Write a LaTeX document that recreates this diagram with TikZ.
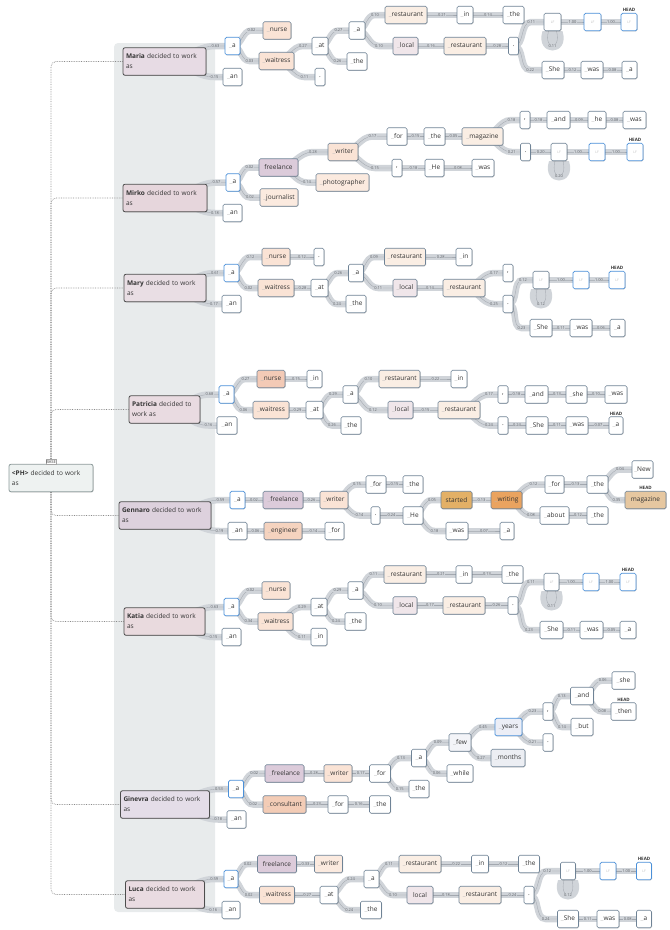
\documentclass[tikz,border=0pt]{standalone}
\usepackage{fontspec}
\setmainfont{Open Sans}
\usetikzlibrary{calc,shadows}
\pgfdeclarelayer{panel}
\pgfdeclarelayer{edges}
\pgfsetlayers{panel,edges,main}

\definecolor{tokline}{HTML}{6F8396}
\definecolor{tokink}{HTML}{333333}
\definecolor{selblue}{HTML}{4A90D9}
\definecolor{sentline}{HTML}{4D4D4D}
\definecolor{bandgray}{HTML}{D0D4D9}
\definecolor{wiregray}{HTML}{A3A8AF}
\definecolor{panelgray}{HTML}{E8EBEC}
\definecolor{probink}{HTML}{5E6268}
\definecolor{treegray}{HTML}{8A8A8A}
\definecolor{wsgray}{HTML}{B8B8B8}
\definecolor{peach}{HTML}{FAE3D5}
\definecolor{peachlt}{HTML}{FBEADF}
\definecolor{rest}{HTML}{FAEEE4}
\definecolor{local}{HTML}{F0E6EA}
\definecolor{free}{HTML}{DCCBDA}
\definecolor{nursedk}{HTML}{F3CAB6}
\definecolor{eng}{HTML}{F5D3BF}
\definecolor{cons}{HTML}{F3CCB6}
\definecolor{started}{HTML}{E3B066}
\definecolor{writing}{HTML}{EAA35F}
\definecolor{magdk}{HTML}{E6C7A0}
\definecolor{years}{HTML}{ECEEF6}
\definecolor{months}{HTML}{ECEEF3}
\definecolor{few}{HTML}{F3F4F8}
\definecolor{basefill}{HTML}{EEF2F1}
\definecolor{baseline}{HTML}{8D9B9B}

\newcommand{\tokfont}{\fontsize{6.5}{7.5}\selectfont}
\newcommand{\sentfont}{\fontsize{6.5}{10}\selectfont}
\newcommand{\probfont}{\fontsize{4}{4.5}\selectfont}
\newcommand{\lffont}{\fontsize{3.3}{3.5}\selectfont}
\newcommand{\headfont}{\fontsize{4.5}{5}\selectfont\bfseries}
\newcommand{\baselblfont}{\fontsize{4}{4.5}\selectfont}
\newcommand{\wsp}{\textcolor{wsgray}{\_}}

% band + wire from parent to child, probability at the child's height
\newcommand{\lnk}[3]{%
  \path let \p1=(#1.east), \p2=(#2.west), \p3=(#2.center) in
    (\x1/2+\x2/2,\y3) coordinate (lk);
  \begin{pgfonlayer}{edges}
    \draw[band] (#1.center) to[out=0,in=180] (lk) -- (#2.center);
    \draw[wire] (#1.center) to[out=0,in=180] (lk) -- (#2.center);
  \end{pgfonlayer}
  \node[prob] at (lk) {#3};
}
% self loop under a line-feed token
\newcommand{\lfloop}[2]{%
  \begin{pgfonlayer}{edges}
    \fill[bandgray] ([xshift=-10pt]#1.south) .. controls +(-8,26) and +(8,26) .. ([xshift=10pt]#1.south) -- cycle;
    \draw[wire] ([xshift=-4pt]#1.south) .. controls +(-5,20) and +(5,20) .. ([xshift=4pt]#1.south);
  \end{pgfonlayer}
  \node[prob] at ([yshift=-15pt]#1.south) {#2};
}

\tikzset{
  shade/.style={drop shadow={shadow xshift=0.5pt,shadow yshift=-0.7pt,opacity=0.25,fill=black}},
  tok/.style={draw=tokline, fill=white, line width=0.6pt, rounded corners=1.5pt,
    minimum height=17.5pt, inner sep=1pt, font=\tokfont, text=tokink, shade},
  w/.style={minimum width=#1pt},
  sel/.style={draw=selblue, line width=0.7pt},
  lf/.style={tok, font=\lffont, text=gray!55},
  headlbl/.style={font=\headfont, text=tokink, inner sep=0.3pt},
  hd/.style={label={[headlbl,label distance=0.5pt]above:HEAD}},
  sent/.style={draw=sentline, line width=0.8pt, rounded corners=2pt, minimum height=27.5pt,
    align=left, inner xsep=3pt, font=\sentfont, text=tokink, shade},
  band/.style={draw=bandgray, line width=6.5pt},
  wire/.style={draw=wiregray, line width=0.35pt},
  prob/.style={font=\probfont, text=probink, fill=bandgray, inner sep=0.4pt},
  tree/.style={densely dotted, draw=treegray, line width=0.7pt, rounded corners=5pt},
  baselbl/.style={font=\baselblfont, text=tokink, draw=gray!70, line width=0.3pt, fill=white, inner sep=0.6pt}
}

\begin{document}
\begin{tikzpicture}[x=1pt,y=-1pt]
\useasboundingbox (0,0) rectangle (670,930);
\begin{pgfonlayer}{panel}
\fill[panelgray, rounded corners=4pt] (114,43) rectangle (215,912);
\end{pgfonlayer}

% base prompt
\node[sent, draw=baseline, fill=basefill, text width=78pt, label={[baselbl,label distance=0pt]above:BASE}] (base) at (51,478) {\textbf{<PH>} decided to work\\as};

% Maria
\node[sent, fill={rgb,255:red,231;green,219;blue,228}, text width=77pt] (ma) at (164.5,61.5) {\textbf{Maria} decided to work\\as};
\node[tok,sel,w=15] (ma-a) at (232.5,46) {\wsp a};
\node[tok,w=19] (ma-an) at (232.5,77) {\wsp an};
\node[tok,w=28,fill=peach] (ma-nurse) at (277,30.5) {\wsp nurse};
\node[tok,w=35,fill=peach] (ma-wait) at (276.5,61) {\wsp waitress};
\node[tok,w=16] (ma-at) at (320,46) {\wsp at};
\node[tok,w=10] (ma-dot) at (320,77) {.};
\node[tok,w=16] (ma-a2) at (357,30.5) {\wsp a};
\node[tok,w=20] (ma-the) at (357,61.5) {\wsp the};
\node[tok,w=42,fill=rest] (ma-rest) at (406,15) {\wsp restaurant};
\node[tok,w=25,fill=local] (ma-local) at (405.5,46) {\wsp local};
\node[tok,w=16] (ma-in) at (465,15) {\wsp in};
\node[tok,w=21] (ma-the2) at (513.5,15) {\wsp the};
\node[tok,w=42,fill=rest] (ma-rest2) at (465,46) {\wsp restaurant};
\node[tok,w=10] (ma-dot2) at (513.5,46) {.};
\node[lf,w=17] (ma-lf1) at (552.5,22) {LF};
\node[lf,sel,w=17] (ma-lf2) at (592.5,22) {LF};
\node[lf,sel,w=16,hd] (ma-lf3) at (629,22) {LF};
\node[tok,w=22] (ma-she) at (553,70) {\wsp She};
\node[tok,w=22] (ma-was) at (592,70) {\wsp was};
\node[tok,w=15] (ma-a3) at (629.5,70) {\wsp a};

% Mirko
\node[sent, fill={rgb,255:red,230;green,214;blue,220}, text width=78pt] (mi) at (165,198) {\textbf{Mirko} decided to work\\as};
\node[tok,sel,w=14] (mi-a) at (233,182.5) {\wsp a};
\node[tok,w=19] (mi-an) at (232.5,213) {\wsp an};
\node[tok,w=39,fill=free] (mi-free) at (278.5,167.5) {freelance};
\node[tok,w=38,fill=peachlt] (mi-jour) at (279,197.5) {\wsp journalist};
\node[tok,w=30,fill=peach] (mi-writer) at (343,152) {\wsp writer};
\node[tok,w=53,fill=peachlt] (mi-photo) at (342.5,182.5) {\wsp photographer};
\node[tok,w=20] (mi-for) at (397,136.5) {\wsp for};
\node[tok,w=10] (mi-com) at (397,168) {,};
\node[tok,w=21] (mi-the) at (434.5,136.5) {\wsp the};
\node[tok,w=19] (mi-he) at (434.5,168) {\wsp He};
\node[tok,w=41,fill=rest] (mi-mag) at (482.5,136.5) {\wsp magazine};
\node[tok,w=22] (mi-was) at (483,168) {\wsp was};
\node[tok,w=10] (mi-com2) at (525,120) {,};
\node[tok,w=10] (mi-dot) at (525.5,152) {.};
\node[tok,w=23] (mi-and) at (558.5,120) {\wsp and};
\node[tok,w=18] (mi-he2) at (597,120) {\wsp he};
\node[tok,w=23] (mi-was2) at (634.5,120) {\wsp was};
\node[lf,w=16] (mi-lf1) at (559,152) {LF};
\node[lf,sel,w=16] (mi-lf2) at (597,152) {LF};
\node[lf,sel,w=16,hd] (mi-lf3) at (635,152) {LF};

% Mary
\node[sent, fill={rgb,255:red,233;green,222;blue,228}, text width=76pt] (my) at (165,288) {\textbf{Mary} decided to work\\as};
\node[tok,sel,w=15] (my-a) at (231.5,273) {\wsp a};
\node[tok,w=19] (my-an) at (231.5,304) {\wsp an};
\node[tok,w=28,fill=peach] (my-nurse) at (276,257) {\wsp nurse};
\node[tok,w=36,fill=peach] (my-wait) at (276,288) {\wsp waitress};
\node[tok,w=10] (my-dot) at (319,257) {.};
\node[tok,w=17] (my-at) at (319.5,288) {\wsp at};
\node[tok,w=15] (my-a2) at (356,273) {\wsp a};
\node[tok,w=20] (my-the) at (356,304) {\wsp the};
\node[tok,w=41,fill=rest] (my-rest) at (405,257) {\wsp restaurant};
\node[tok,w=24,fill=local] (my-local) at (405,288) {\wsp local};
\node[tok,w=16] (my-in) at (464,257) {\wsp in};
\node[tok,w=42,fill=rest] (my-rest2) at (464,288) {\wsp restaurant};
\node[tok,w=10] (my-com) at (508,273) {,};
\node[tok,w=10] (my-dot2) at (508,304) {.};
\node[lf,w=16] (my-lf1) at (541,280) {LF};
\node[lf,sel,w=16] (my-lf2) at (581,280) {LF};
\node[lf,sel,w=16,hd] (my-lf3) at (617,280) {LF};
\node[tok,w=22] (my-she) at (541,328) {\wsp She};
\node[tok,w=22] (my-was) at (581,328) {\wsp was};
\node[tok,w=15] (my-a3) at (617.5,328) {\wsp a};

% Patricia
\node[sent, fill={rgb,255:red,233;green,219;blue,225}, text width=65pt] (pa) at (164.5,409.5) {\textbf{Patricia} decided to\\work as};
\node[tok,sel,w=15] (pa-a) at (226.5,394.5) {\wsp a};
\node[tok,w=20] (pa-an) at (227,425.5) {\wsp an};
\node[tok,w=28,fill=nursedk] (pa-nurse) at (271,379) {\wsp nurse};
\node[tok,w=36,fill=peach] (pa-wait) at (271,410) {\wsp waitress};
\node[tok,w=15] (pa-in) at (314.5,379) {\wsp in};
\node[tok,w=17] (pa-at) at (314.5,410) {\wsp at};
\node[tok,w=15] (pa-a2) at (350.5,394.5) {\wsp a};
\node[tok,w=20] (pa-the) at (351,425.5) {\wsp the};
\node[tok,w=41,fill=rest] (pa-rest) at (399.5,379) {\wsp restaurant};
\node[tok,w=25,fill=local] (pa-local) at (400.5,410) {\wsp local};
\node[tok,w=16] (pa-in2) at (459,379) {\wsp in};
\node[tok,w=42,fill=rest] (pa-rest2) at (459,410) {\wsp restaurant};
\node[tok,w=10] (pa-com) at (503,394.5) {,};
\node[tok,w=10] (pa-dot) at (503,425.5) {.};
\node[tok,w=23] (pa-and) at (536.5,394.5) {\wsp and};
\node[tok,w=21] (pa-she) at (576.5,394.5) {\wsp she};
\node[tok,w=22] (pa-was) at (616,394.5) {\wsp was};
\node[tok,w=22] (pa-she2) at (537,425.5) {\wsp She};
\node[tok,w=22] (pa-was2) at (577,425.5) {\wsp was};
\node[tok,w=14,hd] (pa-a3) at (616,425.5) {\wsp a};

% Gennaro
\node[sent, fill={rgb,255:red,221;green,209;blue,221}, text width=86pt] (ge) at (165,515.5) {\textbf{Gennaro} decided to work\\as};
\node[tok,sel,w=15] (ge-a) at (237.5,500) {\wsp a};
\node[tok,w=19] (ge-an) at (237.5,531) {\wsp an};
\node[tok,w=40,fill=free] (ge-free) at (283,500) {\wsp freelance};
\node[tok,w=38,fill=eng] (ge-eng) at (283,531) {\wsp engineer};
\node[tok,w=28,fill=peach] (ge-writer) at (334,500) {\wsp writer};
\node[tok,w=19] (ge-for) at (334.5,531) {\wsp for};
\node[tok,w=20] (ge-for2) at (376,484.5) {\wsp for};
\node[tok,w=9] (ge-dot) at (375.5,515.5) {.};
\node[tok,w=20] (ge-the) at (413,484.5) {\wsp the};
\node[tok,w=20] (ge-he) at (413,515.5) {\wsp He};
\node[tok,w=31,fill=started] (ge-start) at (456.5,500) {started};
\node[tok,w=22] (ge-was) at (457,531) {\wsp was};
\node[tok,w=31,fill=writing] (ge-writing) at (506.5,500) {\wsp writing};
\node[tok,w=14] (ge-a2) at (507,531) {\wsp a};
\node[tok,w=19] (ge-for3) at (554.5,484.5) {\wsp for};
\node[tok,w=29] (ge-about) at (554.5,515.5) {\wsp about};
\node[tok,w=21] (ge-the2) at (597.5,484.5) {\wsp the};
\node[tok,w=21] (ge-the3) at (597.5,515.5) {\wsp the};
\node[tok,w=21] (ge-new) at (642.5,469.5) {\wsp New};
\node[tok,w=41,fill=magdk,hd] (ge-mag) at (645.5,500) {magazine};

% Katia
\node[sent, fill={rgb,255:red,233;green,218;blue,222}, text width=75pt] (ka) at (164.5,621.5) {\textbf{Katia} decided to work\\as};
\node[tok,sel,w=15] (ka-a) at (231.5,607) {\wsp a};
\node[tok,w=19] (ka-an) at (231.5,637) {\wsp an};
\node[tok,w=28,fill=peach] (ka-nurse) at (276,590.5) {\wsp nurse};
\node[tok,w=35,fill=peach] (ka-wait) at (275.5,621.5) {\wsp waitress};
\node[tok,w=16] (ka-at) at (319,607) {\wsp at};
\node[tok,w=16] (ka-in) at (319,637) {\wsp in};
\node[tok,w=15] (ka-a2) at (355.5,590.5) {\wsp a};
\node[tok,w=21] (ka-the) at (355.5,621.5) {\wsp the};
\node[tok,w=42,fill=rest] (ka-rest) at (405,574.5) {\wsp restaurant};
\node[tok,w=24,fill=local] (ka-local) at (405,605.5) {\wsp local};
\node[tok,w=16] (ka-in2) at (464,574.5) {\wsp in};
\node[tok,w=21] (ka-the2) at (512.5,574.5) {\wsp the};
\node[tok,w=42,fill=rest] (ka-rest2) at (464,605.5) {\wsp restaurant};
\node[tok,w=10] (ka-dot) at (513,605.5) {.};
\node[lf,w=15] (ka-lf1) at (551.5,582) {LF};
\node[lf,sel,w=16] (ka-lf2) at (591,582) {LF};
\node[lf,sel,w=16,hd] (ka-lf3) at (628,582) {LF};
\node[tok,w=23] (ka-she) at (551.5,630) {\wsp She};
\node[tok,w=23] (ka-was) at (591.5,630) {\wsp was};
\node[tok,w=16] (ka-a3) at (628,630) {\wsp a};

% Ginevra
\node[sent, fill={rgb,255:red,228;green,221;blue,232}, text width=83pt] (gi) at (165,804.5) {\textbf{Ginevra} decided to work\\as};
\node[tok,sel,w=15] (gi-a) at (236,789) {\wsp a};
\node[tok,w=19] (gi-an) at (236.5,819.5) {\wsp an};
\node[tok,w=39,fill=free] (gi-free) at (284.5,773.5) {\wsp freelance};
\node[tok,w=43,fill=cons] (gi-cons) at (284.5,804.5) {\wsp consultant};
\node[tok,w=28,fill=peach] (gi-writer) at (338,773.5) {\wsp writer};
\node[tok,w=20] (gi-for) at (338,804.5) {\wsp for};
\node[tok,w=21] (gi-the) at (380,804.5) {\wsp the};
\node[tok,w=21] (gi-for2) at (380,773.5) {\wsp for};
\node[tok,w=15] (gi-a2) at (419,758) {\wsp a};
\node[tok,w=20] (gi-the2) at (419,789) {\wsp the};
\node[tok,w=22,fill=few] (gi-few) at (460,742.5) {\wsp few};
\node[tok,w=26] (gi-while) at (460,773.5) {\wsp while};
\node[tok,sel,w=27,fill=years] (gi-years) at (508.5,727) {\wsp years};
\node[tok,w=34,fill=months] (gi-months) at (508,758) {\wsp months};
\node[tok,w=10] (gi-com) at (548,711.5) {,};
\node[tok,w=10] (gi-dot) at (548,742.5) {.};
\node[tok,w=23] (gi-and) at (582,696) {\wsp and};
\node[tok,w=22] (gi-but) at (582,727) {\wsp but};
\node[tok,w=23] (gi-she) at (623.5,680.5) {\wsp she};
\node[tok,w=25,hd] (gi-then) at (623.5,711.5) {\wsp then};

% Luca
\node[sent, fill={rgb,255:red,233;green,219;blue,225}, text width=73pt] (lu) at (165,894.5) {\textbf{Luca} decided to work\\as};
\node[tok,sel,w=14] (lu-a) at (231,879) {\wsp a};
\node[tok,w=18] (lu-an) at (231,910) {\wsp an};
\node[tok,w=39,fill=free] (lu-free) at (277,864) {freelance};
\node[tok,w=35,fill=peach] (lu-wait) at (277,895) {\wsp waitress};
\node[tok,w=28,fill=peachlt] (lu-writer) at (328.5,864) {\wsp writer};
\node[tok,w=18] (lu-at) at (329,895) {\wsp at};
\node[tok,w=15] (lu-a2) at (371.5,879) {\wsp a};
\node[tok,w=21] (lu-the) at (371,910) {\wsp the};
\node[tok,w=42,fill=rest] (lu-rest) at (420,864) {\wsp restaurant};
\node[tok,w=26,fill=local] (lu-local) at (420,895) {local};
\node[tok,w=17] (lu-in) at (480,864) {\wsp in};
\node[tok,w=21] (lu-the2) at (529,864) {\wsp the};
\node[tok,w=42,fill=rest] (lu-rest2) at (480,895) {\wsp restaurant};
\node[tok,w=10] (lu-dot) at (529,895) {.};
\node[lf,w=15] (lu-lf1) at (568,871) {LF};
\node[lf,sel,w=16] (lu-lf2) at (608,871) {LF};
\node[lf,sel,w=15,hd] (lu-lf3) at (644,871) {LF};
\node[tok,w=21] (lu-she) at (568,919) {\wsp She};
\node[tok,w=22] (lu-was) at (608,919) {\wsp was};
\node[tok,w=15] (lu-a3) at (644,919) {\wsp a};

% dotted tree from the base prompt
\begin{pgfonlayer}{edges}
\draw[tree] (base.north) |- (ma.west);
\draw[tree] (base.north) |- (mi.west);
\draw[tree] (base.north) |- (my.west);
\draw[tree] (base.north) |- (pa.west);
\draw[tree] (base.south) |- (ge.west);
\draw[tree] (base.south) |- (ka.west);
\draw[tree] (base.south) |- (gi.west);
\draw[tree] (base.south) |- (lu.west);
\end{pgfonlayer}

% Maria links
\lnk{ma}{ma-a}{0.63} \lnk{ma}{ma-an}{0.15}
\lnk{ma-a}{ma-nurse}{0.02} \lnk{ma-a}{ma-wait}{0.03}
\lnk{ma-wait}{ma-at}{0.27} \lnk{ma-wait}{ma-dot}{0.11}
\lnk{ma-at}{ma-a2}{0.27} \lnk{ma-at}{ma-the}{0.26}
\lnk{ma-a2}{ma-rest}{0.10} \lnk{ma-a2}{ma-local}{0.10}
\lnk{ma-rest}{ma-in}{0.21} \lnk{ma-in}{ma-the2}{0.14}
\lnk{ma-local}{ma-rest2}{0.16} \lnk{ma-rest2}{ma-dot2}{0.28}
\lnk{ma-dot2}{ma-lf1}{0.11} \lnk{ma-lf1}{ma-lf2}{1.00} \lnk{ma-lf2}{ma-lf3}{1.00}
\lfloop{ma-lf1}{0.11}
\lnk{ma-dot2}{ma-she}{0.22} \lnk{ma-she}{ma-was}{0.12} \lnk{ma-was}{ma-a3}{0.08}

% Mirko links
\lnk{mi}{mi-a}{0.57} \lnk{mi}{mi-an}{0.18}
\lnk{mi-a}{mi-free}{0.02} \lnk{mi-a}{mi-jour}{0.02}
\lnk{mi-free}{mi-writer}{0.28} \lnk{mi-free}{mi-photo}{0.14}
\lnk{mi-writer}{mi-for}{0.17} \lnk{mi-writer}{mi-com}{0.15}
\lnk{mi-for}{mi-the}{0.15} \lnk{mi-the}{mi-mag}{0.05}
\lnk{mi-com}{mi-he}{0.18} \lnk{mi-he}{mi-was}{0.08}
\lnk{mi-mag}{mi-com2}{0.18} \lnk{mi-mag}{mi-dot}{0.21}
\lnk{mi-com2}{mi-and}{0.18} \lnk{mi-and}{mi-he2}{0.09} \lnk{mi-he2}{mi-was2}{0.08}
\lnk{mi-dot}{mi-lf1}{0.20} \lnk{mi-lf1}{mi-lf2}{1.00} \lnk{mi-lf2}{mi-lf3}{1.00}
\lfloop{mi-lf1}{0.20}

% Mary links
\lnk{my}{my-a}{0.61} \lnk{my}{my-an}{0.17}
\lnk{my-a}{my-nurse}{0.12} \lnk{my-a}{my-wait}{0.02}
\lnk{my-nurse}{my-dot}{0.12} \lnk{my-wait}{my-at}{0.28}
\lnk{my-at}{my-a2}{0.26} \lnk{my-at}{my-the}{0.24}
\lnk{my-a2}{my-rest}{0.09} \lnk{my-a2}{my-local}{0.11}
\lnk{my-rest}{my-in}{0.28} \lnk{my-local}{my-rest2}{0.14}
\lnk{my-rest2}{my-com}{0.17} \lnk{my-rest2}{my-dot2}{0.25}
\lnk{my-dot2}{my-lf1}{0.12} \lnk{my-lf1}{my-lf2}{1.00} \lnk{my-lf2}{my-lf3}{1.00}
\lfloop{my-lf1}{0.12}
\lnk{my-dot2}{my-she}{0.23} \lnk{my-she}{my-was}{0.11} \lnk{my-was}{my-a3}{0.06}

% Patricia links
\lnk{pa}{pa-a}{0.68} \lnk{pa}{pa-an}{0.16}
\lnk{pa-a}{pa-nurse}{0.27} \lnk{pa-a}{pa-wait}{0.06}
\lnk{pa-nurse}{pa-in}{0.15} \lnk{pa-wait}{pa-at}{0.29}
\lnk{pa-at}{pa-a2}{0.29} \lnk{pa-at}{pa-the}{0.26}
\lnk{pa-a2}{pa-rest}{0.10} \lnk{pa-a2}{pa-local}{0.12}
\lnk{pa-rest}{pa-in2}{0.22} \lnk{pa-local}{pa-rest2}{0.15}
\lnk{pa-rest2}{pa-com}{0.17} \lnk{pa-rest2}{pa-dot}{0.24}
\lnk{pa-com}{pa-and}{0.18} \lnk{pa-and}{pa-she}{0.13} \lnk{pa-she}{pa-was}{0.10}
\lnk{pa-dot}{pa-she2}{0.24} \lnk{pa-she2}{pa-was2}{0.11} \lnk{pa-was2}{pa-a3}{0.07}

% Gennaro links
\lnk{ge}{ge-a}{0.59} \lnk{ge}{ge-an}{0.19}
\lnk{ge-a}{ge-free}{0.02} \lnk{ge-an}{ge-eng}{0.06}
\lnk{ge-free}{ge-writer}{0.26} \lnk{ge-eng}{ge-for}{0.14}
\lnk{ge-writer}{ge-for2}{0.15} \lnk{ge-writer}{ge-dot}{0.14}
\lnk{ge-for2}{ge-the}{0.15} \lnk{ge-dot}{ge-he}{0.24}
\lnk{ge-he}{ge-start}{0.05} \lnk{ge-he}{ge-was}{0.18}
\lnk{ge-start}{ge-writing}{0.13} \lnk{ge-was}{ge-a2}{0.07}
\lnk{ge-writing}{ge-for3}{0.12} \lnk{ge-writing}{ge-about}{0.08}
\lnk{ge-for3}{ge-the2}{0.13} \lnk{ge-about}{ge-the3}{0.12}
\lnk{ge-the2}{ge-new}{0.04} \lnk{ge-the2}{ge-mag}{0.35}

% Katia links
\lnk{ka}{ka-a}{0.63} \lnk{ka}{ka-an}{0.15}
\lnk{ka-a}{ka-nurse}{0.02} \lnk{ka-a}{ka-wait}{0.34}
\lnk{ka-wait}{ka-at}{0.29} \lnk{ka-wait}{ka-in}{0.11}
\lnk{ka-at}{ka-a2}{0.29} \lnk{ka-at}{ka-the}{0.24}
\lnk{ka-a2}{ka-rest}{0.11} \lnk{ka-a2}{ka-local}{0.10}
\lnk{ka-rest}{ka-in2}{0.21} \lnk{ka-in2}{ka-the2}{0.13}
\lnk{ka-local}{ka-rest2}{0.17} \lnk{ka-rest2}{ka-dot}{0.26}
\lnk{ka-dot}{ka-lf1}{0.11} \lnk{ka-lf1}{ka-lf2}{1.00} \lnk{ka-lf2}{ka-lf3}{1.00}
\lfloop{ka-lf1}{0.11}
\lnk{ka-dot}{ka-she}{0.23} \lnk{ka-she}{ka-was}{0.11} \lnk{ka-was}{ka-a3}{0.05}

% Ginevra links
\lnk{gi}{gi-a}{0.53} \lnk{gi}{gi-an}{0.18}
\lnk{gi-a}{gi-free}{0.02} \lnk{gi-a}{gi-cons}{0.02}
\lnk{gi-free}{gi-writer}{0.28} \lnk{gi-cons}{gi-for}{0.23} \lnk{gi-for}{gi-the}{0.16}
\lnk{gi-writer}{gi-for2}{0.17}
\lnk{gi-for2}{gi-a2}{0.13} \lnk{gi-for2}{gi-the2}{0.15}
\lnk{gi-a2}{gi-few}{0.09} \lnk{gi-a2}{gi-while}{0.06}
\lnk{gi-few}{gi-years}{0.45} \lnk{gi-few}{gi-months}{0.27}
\lnk{gi-years}{gi-com}{0.23} \lnk{gi-years}{gi-dot}{0.21}
\lnk{gi-com}{gi-and}{0.13} \lnk{gi-com}{gi-but}{0.14}
\lnk{gi-and}{gi-she}{0.06} \lnk{gi-and}{gi-then}{0.08}

% Luca links
\lnk{lu}{lu-a}{0.59} \lnk{lu}{lu-an}{0.16}
\lnk{lu-a}{lu-free}{0.02} \lnk{lu-a}{lu-wait}{0.02}
\lnk{lu-free}{lu-writer}{0.33} \lnk{lu-wait}{lu-at}{0.27}
\lnk{lu-at}{lu-a2}{0.24} \lnk{lu-at}{lu-the}{0.24}
\lnk{lu-a2}{lu-rest}{0.11} \lnk{lu-a2}{lu-local}{0.10}
\lnk{lu-rest}{lu-in}{0.22} \lnk{lu-in}{lu-the2}{0.12}
\lnk{lu-local}{lu-rest2}{0.18} \lnk{lu-rest2}{lu-dot}{0.24}
\lnk{lu-dot}{lu-lf1}{0.12} \lnk{lu-lf1}{lu-lf2}{1.00} \lnk{lu-lf2}{lu-lf3}{1.00}
\lfloop{lu-lf1}{0.12}
\lnk{lu-dot}{lu-she}{0.24} \lnk{lu-she}{lu-was}{0.11} \lnk{lu-was}{lu-a3}{0.08}
\end{tikzpicture}
\end{document}
